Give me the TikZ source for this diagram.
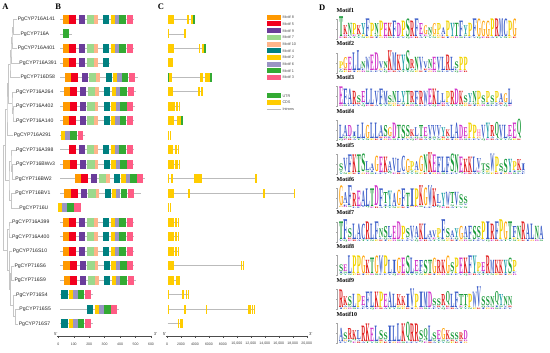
\documentclass[tikz,border=0pt]{standalone}
\usepackage{fontspec}
\usepackage{graphicx}
\newfontfamily\lsans{Liberation Sans}
\newfontfamily\lserif{Liberation Serif}
\definecolor{m8}{HTML}{FF9900}
\definecolor{m5}{HTML}{F2001E}
\definecolor{m9}{HTML}{6A3D9A}
\definecolor{m7}{HTML}{9CD98C}
\definecolor{m10}{HTML}{FFB48A}
\definecolor{m4}{HTML}{008080}
\definecolor{m2}{HTML}{FFCC00}
\definecolor{m6}{HTML}{9A94C4}
\definecolor{m1}{HTML}{33AA33}
\definecolor{m3}{HTML}{FF5C85}
\definecolor{cds}{HTML}{FFCC00}
\definecolor{utr}{HTML}{33AA33}
\definecolor{intron}{HTML}{BBBBBB}
\definecolor{aaBlue}{HTML}{3A5CC8}
\definecolor{aaGreen}{HTML}{1A9A3A}
\definecolor{aaRed}{HTML}{E01B1B}
\definecolor{aaMag}{HTML}{D030C8}
\definecolor{aaOrange}{HTML}{FFA000}
\definecolor{aaYellow}{HTML}{F2D400}
\definecolor{aaTeal}{HTML}{20A0A8}
\definecolor{aaPink}{HTML}{FF80C0}
\colorlet{lc-A}{aaBlue}\colorlet{lc-C}{aaBlue}\colorlet{lc-F}{aaBlue}\colorlet{lc-I}{aaBlue}
\colorlet{lc-L}{aaBlue}\colorlet{lc-M}{aaBlue}\colorlet{lc-V}{aaBlue}\colorlet{lc-W}{aaBlue}
\colorlet{lc-N}{aaGreen}\colorlet{lc-Q}{aaGreen}\colorlet{lc-S}{aaGreen}\colorlet{lc-T}{aaGreen}
\colorlet{lc-K}{aaRed}\colorlet{lc-R}{aaRed}\colorlet{lc-D}{aaMag}\colorlet{lc-E}{aaMag}
\colorlet{lc-G}{aaOrange}\colorlet{lc-P}{aaYellow}\colorlet{lc-H}{aaPink}\colorlet{lc-Y}{aaTeal}
\newcommand\seclet[1]{\ifcase#1 S\or A\or G\or E\or K\or V\or N\or L\or T\or D\or R\or I\or Q\or P\or F\or Y\fi}
% motif box: color, x, width, row
\newcommand\mtf[4]{\fill[#1] (#2,{19.5+14.49*#4-4.5}) rectangle ++(#3,9);}
\newcommand\lin[3]{\draw[bline] (#2,{19.5+14.49*#1}) -- (#3,{19.5+14.49*#1});}
\newcommand\hdrow[2]{\mtf{m5}{69+#2}{7}{#1}\mtf{m9}{79.3+#2}{6}{#1}\mtf{m7}{86.7+#2}{7.3}{#1}\mtf{m10}{94+#2}{3.5}{#1}}
\newcommand\tlrow[2]{\mtf{m4}{103.3+#2}{6}{#1}\mtf{m2}{110.7+#2}{4.3}{#1}\mtf{m6}{115+#2}{4.2}{#1}\mtf{m1}{119.3+#2}{6.7}{#1}\mtf{m3}{126.7+#2}{6}{#1}}
% full row: row, shift, end
\newcommand\fullrow[3]{\lin{#1}{60}{#3}\mtf{m8}{62.7+#2}{6.3}{#1}\hdrow{#1}{#2}\tlrow{#1}{#2}}
% gene structure
\newcommand\cdsb[3]{\fill[cds] (#1,{19.5+14.49*#3-4.5}) rectangle (#2,{19.5+14.49*#3+4.5});}
\newcommand\utrb[3]{\fill[utr] (#1,{19.5+14.49*#3-4.5}) rectangle (#2,{19.5+14.49*#3+4.5});}
\newcommand\intrl[3]{\draw[bline] (#1,{19.5+14.49*#3}) -- (#2,{19.5+14.49*#3});}
% logo: id, x0, baseline, list
\newcommand\logorow[4]{%
 \draw[gray!70, line width=.3pt] (337.5,#3) -- (337.5,#3-20);
 \foreach \yq in {0,10,20} {\draw[gray!70, line width=.3pt] (336.3,#3-\yq) -- (337.5,#3-\yq);}
 \foreach \Lt/\Ht [count=\i from 0] in {#4} {%
   \pgfmathsetmacro\xx{#2+4.45*\i}%
   \pgfmathsetmacro\hh{2.2*\Ht}%
   \pgfmathtruncatemacro\sxa{mod(\i*7+#1*3,16)}%
   \pgfmathtruncatemacro\sxb{mod(\i*5+#1+3,16)}%
   \edef\Sxa{\seclet{\sxa}}\edef\Sxb{\seclet{\sxb}}%
   \node[lg, text=lc-\Sxa] (s#1-\i) at (\xx,#3) {\resizebox{4.1pt}{1.4pt}{\Sxa}};%
   \ifnum\Ht<6
     \node[lg, text=lc-\Sxb] (u#1-\i) at (\xx,#3-2) {\resizebox{4.1pt}{1.4pt}{\Sxb}};%
     \node[lg, text=lc-\Lt] (m#1-\i) at (\xx,#3-4) {\resizebox{4.1pt}{\hh pt}{\Lt}};%
   \else
     \node[lg, text=lc-\Lt] (m#1-\i) at (\xx,#3-2) {\resizebox{4.1pt}{\hh pt}{\Lt}};%
   \fi
 }}
\def\cm{,}
\begin{document}
\begin{tikzpicture}[x=1pt,y=-1pt,
  bline/.style={draw=intron, line width=0.9pt},
  tree/.style={draw=gray!45, line width=0.45pt},
  gl/.style={font=\lsans\fontsize{5.1}{6}\selectfont, anchor=west, inner sep=0.3pt, text=black!85},
  lg/.style={anchor=south west, inner sep=0pt, outer sep=0pt, font=\lserif\bfseries},
  tl/.style={font=\lsans\fontsize{3.5}{4}\selectfont, text=black!75, inner sep=0pt},
  pl/.style={font=\lserif\bfseries\fontsize{8.5}{9}\selectfont, inner sep=0pt},
  mt/.style={font=\lserif\bfseries\fontsize{6}{7}\selectfont, anchor=west, inner sep=0pt},
  leg/.style={font=\lsans\fontsize{3.8}{4}\selectfont, anchor=west, inner sep=0pt, text=black!70},
  axis/.style={draw=gray!60!black, line width=0.4pt}]
\useasboundingbox (0,0) rectangle (550,353);
\fill[white] (0,0) rectangle (550,353);
% panel letters
\node[pl] (pA) at (5.5,7) {A};
\node[pl] (pB) at (58.3,7) {B};
\node[pl] (pC) at (161,7) {C};
\node[pl] (pD) at (322.3,7.3) {D};
% gene labels
\node[gl] (g0) at (17.3,19.5) {PgCYP716A141};
\node[gl] (g1) at (20,33.99) {PgCYP716A};
\node[gl] (g2) at (17.3,48.48) {PgCYP716A401};
\node[gl] (g3) at (19,62.97) {PgCYP716A391};
\node[gl] (g4) at (20,77.46) {PgCYP716D58};
\node[gl] (g5) at (15.7,91.95) {PgCYP716A264};
\node[gl] (g6) at (15.7,106.44) {PgCYP716A402};
\node[gl] (g7) at (15.7,120.93) {PgCYP716A140};
\node[gl] (g8) at (13.3,135.42) {PgCYP716A291};
\node[gl] (g9) at (15.7,149.91) {PgCYP716A398};
\node[gl] (g10) at (15.7,164.4) {PgCYP716BWv3};
\node[gl] (g11) at (15,178.89) {PgCYP716BW2};
\node[gl] (g12) at (15,193.38) {PgCYP716BV1};
\node[gl] (g13) at (19,207.87) {PgCYP716U};
\node[gl] (g14) at (11.7,222.36) {PgCYP716A399};
\node[gl] (g15) at (11.7,236.85) {PgCYP716A400};
\node[gl] (g16) at (12.3,251.34) {PgCYP716S10};
\node[gl] (g17) at (14,265.83) {PgCYP716S6};
\node[gl] (g18) at (14,280.32) {PgCYP716S9};
\node[gl] (g19) at (15.7,294.81) {PgCYP716S4};
\node[gl] (g20) at (19,309.3) {PgCYP716S5};
\node[gl] (g21) at (18.3,323.79) {PgCYP716S7};
% tree
\coordinate (n1) at (13.5,26.75);
\coordinate (n2) at (12,37.6);
\coordinate (n3) at (11,50.3);
\coordinate (n4) at (10,63.9);
\coordinate (n5) at (13,113.7);
\coordinate (n6) at (12,102.8);
\coordinate (n7) at (8.5,83.35);
\coordinate (n8) at (7,109.4);
\coordinate (n9) at (12.5,171.6);
\coordinate (n10) at (11,160.8);
\coordinate (n11) at (11.5,200.6);
\coordinate (n12) at (9,180.7);
\coordinate (n13) at (5.5,145);
\coordinate (n14) at (9,229.6);
\coordinate (n15) at (11.5,273.1);
\coordinate (n16) at (15.5,316.5);
\coordinate (n17) at (13.5,305.7);
\coordinate (n18) at (10.5,289.4);
\coordinate (n19) at (9.5,270.4);
\coordinate (n20) at (7.5,250);
\coordinate (rt) at (3.5,197.5);
\coordinate (rt0) at (2.5,197.5);
\draw[tree] (g0.west) -| (n1) |- (g1.west);
\draw[tree] (n1) -| (n2) |- (g2.west);
\draw[tree] (n2) -| (n3) |- (g3.west);
\draw[tree] (n3) -| (n4) |- (g4.west);
\draw[tree] (g6.west) -| (n5) |- (g7.west);
\draw[tree] (g5.west) -| (n6) |- (n5);
\draw[tree] (n4) -| (n7) |- (n6);
\draw[tree] (n7) -| (n8) |- (g8.west);
\draw[tree] (g10.west) -| (n9) |- (g11.west);
\draw[tree] (g9.west) -| (n10) |- (n9);
\draw[tree] (g12.west) -| (n11) |- (g13.west);
\draw[tree] (n10) -| (n12) |- (n11);
\draw[tree] (n8) -| (n13) |- (n12);
\draw[tree] (g14.west) -| (n14) |- (g15.west);
\draw[tree] (g17.west) -| (n15) |- (g18.west);
\draw[tree] (g20.west) -| (n16) |- (g21.west);
\draw[tree] (g19.west) -| (n17) |- (n16);
\draw[tree] (n15) -| (n18) |- (n17);
\draw[tree] (g16.west) -| (n19) |- (n18);
\draw[tree] (n14) -| (n20) |- (n19);
\draw[tree] (n13) -| (rt) |- (n20);
\draw[tree] (rt0) -- (rt);
% panel B motifs
\fullrow{0}{0}{134.3}
\lin{1}{60}{71.7}\mtf{m1}{62.7}{6.5}{1}
\fullrow{2}{0}{134.3}
\lin{3}{60}{109.5}\mtf{m8}{62.7}{6.3}{3}\hdrow{3}{0}\mtf{m4}{103}{6}{3}
\fullrow{4}{2.3}{138.3}
\fullrow{5}{1}{135.7}
\fullrow{6}{0.7}{135}
\fullrow{7}{0.3}{134.3}
\lin{8}{60}{85}\mtf{m2}{61}{4}{8}\mtf{m6}{65}{5}{8}\mtf{m1}{70}{7.3}{8}\mtf{m3}{77.7}{5.6}{8}
\lin{9}{60}{134.3}\hdrow{9}{0}\tlrow{9}{0}
\fullrow{10}{0.5}{134.3}
\lin{11}{60}{145}\mtf{m8}{75}{6.3}{11}\hdrow{11}{12}\tlrow{11}{10.5}
\lin{12}{60}{140.7}\mtf{m8}{64.3}{6.3}{12}\hdrow{12}{1.5}\tlrow{12}{1.2}
\lin{13}{58}{81}\mtf{m2}{58.3}{4}{13}\mtf{m6}{62.3}{4.4}{13}\mtf{m1}{66.7}{7.3}{13}\mtf{m3}{74.3}{6.4}{13}
\fullrow{14}{0}{134.3}
\fullrow{15}{0}{134.3}
\fullrow{16}{0}{134.3}
\fullrow{17}{0.5}{134.3}
\fullrow{18}{1}{135.7}
\lin{19}{60}{92.7}\mtf{m4}{61}{6.7}{19}\mtf{m2}{69}{4.3}{19}\mtf{m6}{73.3}{4.4}{19}\mtf{m1}{77.7}{6.7}{19}\mtf{m3}{85}{6}{19}
\lin{20}{60}{119}\mtf{m4}{87}{6.3}{20}\mtf{m2}{94.5}{4.5}{20}\mtf{m6}{99}{4.5}{20}\mtf{m1}{104}{6.5}{20}\mtf{m3}{110.7}{6}{20}
\lin{21}{60}{92.7}\mtf{m4}{61}{6.7}{21}\mtf{m2}{69}{4.3}{21}\mtf{m6}{73.3}{4.4}{21}\mtf{m1}{77.7}{6.7}{21}\mtf{m3}{85}{6}{21}
% axis B
\draw[axis] (57.3,335.7) -- (151,335.7);
\foreach \v [count=\k from 0] in {0,100,...,600} {
  \draw[axis] ({58.3+0.1545*\v},335.7) -- ++(0,2);
  \node[tl] (bt\k) at ({58.3+0.1545*\v},343.8) {\v};}
\node[tl, font=\lsans\fontsize{4.2}{5}\selectfont] (b5) at (55.8,334.3) {5'};
\node[tl, font=\lsans\fontsize{4.2}{5}\selectfont] (b3) at (155.5,334.3) {3'};
% panel C gene structures
\intrl{167.7}{195}{0}\cdsb{167.7}{174}{0}\cdsb{187.3}{189.3}{0}\cdsb{191}{193.3}{0}\utrb{193.3}{195}{0}
\intrl{167.7}{186}{1}\cdsb{167.7}{168.3}{1}\cdsb{184.3}{186}{1}
\intrl{167.7}{205.7}{2}\cdsb{167.7}{174}{2}\cdsb{199}{200.3}{2}\cdsb{201.7}{204}{2}\utrb{204}{205.7}{2}
\cdsb{167.7}{173.3}{3}
\intrl{167.7}{211.7}{4}\utrb{167.7}{169}{4}\cdsb{169}{171.7}{4}\cdsb{200}{203.3}{4}\cdsb{205}{207.7}{4}\cdsb{208.3}{210}{4}\utrb{210}{211.7}{4}
\intrl{167.7}{202.7}{5}\cdsb{167.7}{173.3}{5}\cdsb{198.3}{200}{5}\cdsb{201}{202.7}{5}
\intrl{167.7}{180}{6}\cdsb{167.7}{174.5}{6}\cdsb{175.8}{177.5}{6}\cdsb{178.5}{180}{6}
\intrl{167.7}{182.7}{7}\cdsb{167.7}{174}{7}\cdsb{177.3}{180.7}{7}\utrb{181}{182.7}{7}
\cdsb{167.7}{169}{8}\cdsb{169.7}{171}{8}
\intrl{167.7}{178.7}{9}\cdsb{167.7}{173.3}{9}\cdsb{175}{176.7}{9}\cdsb{177.5}{178.7}{9}
\intrl{167.7}{180}{10}\cdsb{167.7}{174}{10}\cdsb{175}{177.5}{10}\cdsb{178.5}{180}{10}
\intrl{167.7}{256.7}{11}\cdsb{167.7}{169}{11}\cdsb{171}{172.7}{11}\cdsb{194}{200}{11}\cdsb{200.4}{201.7}{11}\cdsb{255}{256.7}{11}
\intrl{167.7}{295}{12}\cdsb{167.7}{174}{12}\cdsb{188.3}{190}{12}\cdsb{263.3}{265}{12}\cdsb{293.5}{295}{12}
\cdsb{167.7}{169.3}{13}\cdsb{169.7}{171}{13}
\intrl{167.7}{179}{14}\cdsb{167.7}{174}{14}\cdsb{175}{177.3}{14}\cdsb{177.7}{179}{14}
\intrl{167.7}{179}{15}\cdsb{167.7}{174}{15}\cdsb{175}{177.3}{15}\cdsb{177.7}{179}{15}
\intrl{167.7}{179.3}{16}\cdsb{167.7}{174}{16}\cdsb{175}{177}{16}\cdsb{178}{179.3}{16}
\intrl{167.7}{244.3}{17}\cdsb{167.7}{174}{17}\cdsb{240.7}{242.3}{17}\cdsb{242.7}{244.3}{17}
\intrl{167.7}{180.3}{18}\cdsb{167.7}{174}{18}\cdsb{176}{177.7}{18}\cdsb{178.3}{180.3}{18}
\intrl{167.7}{189.3}{19}\cdsb{167.7}{168.2}{19}\cdsb{182.3}{184}{19}\cdsb{185.7}{187.3}{19}\cdsb{187.7}{189.3}{19}
\intrl{167.7}{255}{20}\cdsb{167.7}{169.3}{20}\cdsb{184.3}{185.7}{20}\cdsb{205.7}{206.7}{20}\cdsb{248.3}{250.7}{20}\cdsb{251.7}{253.3}{20}\cdsb{253.6}{255}{20}
\intrl{167.7}{183.3}{21}\cdsb{177.7}{179.3}{21}\cdsb{180}{181.7}{21}\cdsb{182}{183.3}{21}
% axis C
\draw[axis] (166,335.7) -- (306.7,335.7);
\foreach \v/\lab [count=\k from 0] in {0/0,2/2000,4/4000,6/6000,8/8000,10/10\cm000,12/12\cm000,14/14\cm000,16/16\cm000,18/18\cm000,20/20\cm000} {
  \draw[axis] ({167+6.985*\v},335.7) -- ++(0,2);
  \node[tl] (ct\k) at ({167+6.985*\v},343.8) {\lab};}
\node[tl, font=\lsans\fontsize{4.2}{5}\selectfont] (c5) at (164.5,334.3) {5'};
\node[tl, font=\lsans\fontsize{4.2}{5}\selectfont] (c3) at (310.8,334.3) {3'};
% legend
\foreach \c/\t [count=\k from 0] in {m8/Motif 8,m5/Motif 5,m9/Motif 9,m7/Motif 7,m10/Motif 10,m4/Motif 4,m2/Motif 2,m6/Motif 6,m1/Motif 1,m3/Motif 3} {
  \fill[\c] (267.3,{17.3+6.7*\k-2.5}) rectangle ++(13.4,5);
  \node[leg] (lg\k) at (282.3,{17.3+6.7*\k}) {\t};}
\fill[utr] (267.3,93.5) rectangle ++(13.4,5);
\node[leg] (lu) at (282.3,96) {UTR};
\fill[cds] (267.3,99.8) rectangle ++(13.4,5);
\node[leg] (lc) at (282.3,102.3) {CDS};
\draw[bline] (267.3,109) -- (280.7,109);
\node[leg] (li) at (282.3,109) {Introns};
% panel D
\node[mt] (t1) at (336.5,10) {Motif1};
\node[mt] (t2) at (336.5,43.8) {Motif2};
\node[mt] (t3) at (336.5,77.6) {Motif3};
\node[mt] (t4) at (336.5,111.4) {Motif4};
\node[mt] (t5) at (336.5,145.2) {Motif5};
\node[mt] (t6) at (336.5,179) {Motif6};
\node[mt] (t7) at (336.5,212.8) {Motif7};
\node[mt] (t8) at (336.5,246.6) {Motif8};
\node[mt] (t9) at (336.5,280.4) {Motif9};
\node[mt] (t10) at (336.5,314.2) {Motif10};
\logorow{1}{339}{39}{T/9,K/4,N/6,P/5,K/4,Y/5,F/8,P/6,N/5,P/7,E/6,K/6,F/7,D/6,P/7,S/8,R/7,F/8,E/5,G/4,N/3,G/5,P/5,A/3,P/7,Y/6,T/6,F/7,Y/4,P/6,F/8,G/8,G/7,G/7,P/8,R/8,M/8,C/8,P/7,G/8}
\logorow{2}{339}{72.8}{P/3,G/5,E/6,L/8,L/9,N/3,W/6,E/7,D/8,V/3,N/3,K/9,M/8,K/7,Y/7,S/9,R/4,N/6,V/6,V/3,N/4,E/6,V/6,L/6,R/7,L/6,S/3,P/6,P/6}
\logorow{3}{339}{106.6}{E/8,F/7,A/7,R/6,S/3,E/5,L/7,L/7,V/6,F/7,M/6,S/3,N/5,L/5,Y/5,T/6,R/5,F/6,R/6,W/6,E/7,K/7,L/6,L/4,P/5,R/6,D/7,K/6,S/3,Y/4,N/5,P/6,S/3,P/5,S/3,P/5,A/4,G/4,L/7}
\logorow{4}{339}{140.4}{L/6,A/5,D/5,I/2,L/6,L/7,G/6,L/7,L/7,A/5,S/5,G/4,D/7,T/6,S/6,S/5,K/3,L/4,T/5,E/4,V/5,V/5,V/5,Y/4,K/3,L/6,A/7,D/6,E/4,P/7,P/6,H/3,V/6,Y/7,R/5,Q/6,V/6,L/6,E/5,E/7,Q/7}
\logorow{5}{339}{174.2}{S/3,V/6,F/8,K/8,T/8,S/8,L/4,A/3,G/7,E/7,K/7,A/4,V/6,L/6,C/7,G/6,P/4,A/4,G/7,N/8,K/9,E/8,F/7,L/7,F/7,S/8,N/8,E/7,K/6,K/7,L/7,V/5,T/3,S/3,W/8,P/7,S/3,S/6,Y/6,P/4,K/5,I/3}
\logorow{6}{339}{208}{G/9,A/5,F/9,R/6,E/7,A/7,L/8,T/8,D/9,F/8,T/5,Y/7,A/6,G/7,F/8,T/6,I/8,P/8,K/9,G/8,W/9,K/8,L/4,Y/6,W/6,T/5,V/6,S/4,S/3}
\logorow{7}{339}{241.8}{T/8,F/9,S/4,L/7,A/7,C/7,R/8,L/7,F/8,N/4,S/5,L/5,E/6,D/8,P/6,S/4,V/6,A/5,K/7,L/7,A/3,V/3,P/4,F/9,S/4,A/3,Y/4,G/6,A/5,F/6,S/6,S/5,P/8,I/8,R/7,F/8,P/9,G/8,T/8,F/5,N/6,R/8,A/7,L/7,N/6,A/6}
\logorow{8}{339}{275.6}{S/3,E/3,L/8,P/8,P/8,G/8,K/6,T/7,G/8,W/8,P/8,L/6,I/6,G/7,E/7,S/8,L/7,E/5,F/5,S/6,T/6,G/7,R/6,K/6,G/8,S/4,P/7,E/7,K/7,F/8,Y/8,P/4,E/4,R/8,M/6,K/6,K/6,Y/6,S/7,P/5}
\logorow{9}{339}{309.4}{R/8,K/4,S/4,L/6,P/6,E/4,F/7,L/7,K/7,P/7,E/6,A/7,L/6,K/5,K/4,I/6,V/8,P/6,I/7,M/7,D/7,S/3,S/3,R/5,Q/5,L/6,F/7,T/5,T/5,P/6,W/7,V/9,S/4,S/4,N/4,Q/5,Y/5,N/4,N/4}
\logorow{10}{339}{343.2}{A/6,S/3,R/5,K/4,L/4,R/7,K/8,E/6,L/7,S/4,S/3,I/7,L/7,L/8,K/8,Q/7,R/8,R/8,S/4,Q/4,L/7,S/3,E/4,G/5,K/4,S/3,S/3,R/3,D/4}
\end{tikzpicture}
\end{document}
